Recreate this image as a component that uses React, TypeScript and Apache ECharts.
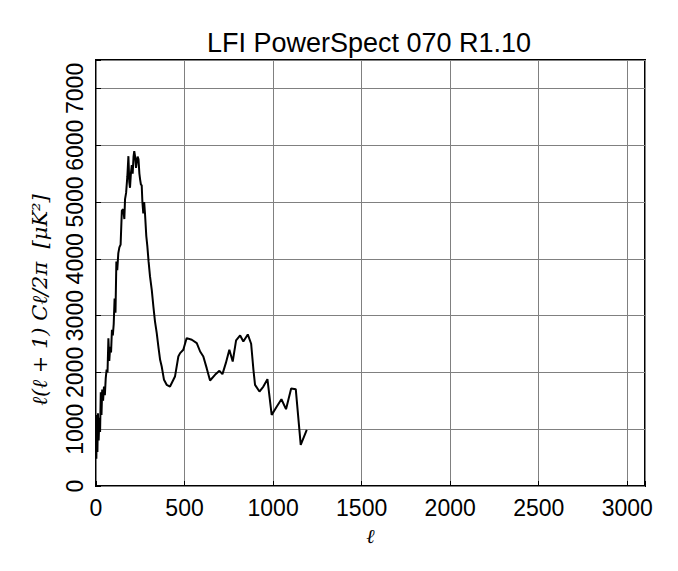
import React, { useEffect, useRef } from "react";
import * as echarts from "echarts";

const ells = [2, 5, 8, 11, 15, 19, 23, 27, 31, 35, 40, 45, 50, 55, 60, 65, 70, 75, 80, 85, 90, 95, 100, 105, 110, 115, 120, 126, 132, 139, 146, 154, 160, 164, 170, 177, 183, 188, 192, 197, 202, 207, 212, 216, 221, 226, 230, 235, 240, 245, 249, 254, 258, 262, 267, 272, 277, 284, 290, 297, 305, 315, 324, 333, 343, 352, 362, 371, 384, 399, 418, 446, 465, 475, 493, 512, 541, 569, 588, 606, 625, 644, 672, 697, 714, 733, 753, 772, 791, 814, 832, 857, 876, 889, 898, 923, 945, 968, 992, 1021, 1047, 1073, 1102, 1128, 1156, 1190];
const power = [480, 1250, 600, 1280, 800, 1200, 950, 1650, 1250, 1700, 1500, 1750, 1600, 1900, 2050, 2000, 2600, 2200, 2450, 2350, 2750, 2650, 2850, 3300, 3050, 3950, 3800, 4100, 4200, 4250, 4850, 4870, 4700, 5050, 5160, 5450, 5807, 5350, 5250, 5500, 5650, 5500, 5800, 5895, 5800, 5600, 5700, 5800, 5750, 5500, 5400, 5300, 5300, 5000, 4800, 5000, 4780, 4400, 4220, 3950, 3690, 3450, 3160, 2900, 2690, 2457, 2222, 2104, 1869, 1781, 1751, 1927, 2280, 2340, 2398, 2604, 2575, 2516, 2368, 2280, 2075, 1857, 1957, 2028, 1969, 2163, 2398, 2192, 2563, 2651, 2545, 2668, 2504, 2045, 1781, 1663, 1751, 1881, 1252, 1398, 1528, 1352, 1716, 1704, 723, 987];

const titleText = "LFI PowerSpect 070 R1.10";
const xName = "ℓ";
const yName = "ℓ(ℓ + 1) Cℓ/2π  [μK²]";

export default function App() {
  const ref = useRef<HTMLDivElement>(null);
  useEffect(() => {
    if (!ref.current) return;
    const chart = echarts.init(ref.current, null, { renderer: "svg" });
    const font = "Liberation Sans";
    chart.setOption({
      animation: false,
      backgroundColor: "#ffffff",
      title: {
        text: titleText,
        left: 356,
        textAlign: "center",
        top: 16,
        textStyle: { fontFamily: font, fontSize: 27, fontWeight: "normal", color: "#000" },
      },
      grid: {
        left: 88,
        right: 25,
        top: 52,
        bottom: 77,
        show: true,
        borderColor: "#000",
        borderWidth: 2,
        backgroundColor: "transparent",
      },
      xAxis: {
        type: "value",
        min: 0,
        max: 3100,
        interval: 500,
        name: xName,
        nameLocation: "middle",
        nameGap: 40,
        nameTextStyle: { fontFamily: "DejaVu Serif", fontStyle: "italic", fontSize: 20, color: "#000" },
        axisLine: { show: false },
        axisTick: { show: true, inside: true, length: 5, lineStyle: { color: "#000" } },
        axisLabel: {
          fontFamily: font,
          fontSize: 23,
          color: "#000",
          margin: 10,
          formatter: (v: number) => (v % 500 === 0 ? String(v) : ""),
        },
        splitLine: { show: true, lineStyle: { color: "#808080", width: 1 } },
      },
      yAxis: {
        type: "value",
        min: 0,
        max: 7500,
        interval: 1000,
        axisLine: { show: false },
        axisTick: { show: true, inside: true, length: 5, lineStyle: { color: "#000" } },
        axisLabel: {
          fontFamily: font,
          fontSize: 23,
          color: "#000",
          rotate: 90,
          margin: 10,
          formatter: (v: number) => (v % 1000 === 0 ? String(v) : ""),
        },
        splitLine: { show: true, lineStyle: { color: "#808080", width: 1 } },
      },
      graphic: [
        {
          type: "text",
          x: 32,
          y: 292,
          rotation: Math.PI / 2,
          style: {
            text: yName,
            fontFamily: "DejaVu Serif",
            fontStyle: "italic",
            fontSize: 21,
            fill: "#000",
            align: "center",
            verticalAlign: "middle",
          },
        },
      ],
      series: [
        {
          type: "line",
          data: ells.map((l, i) => [l, power[i]]),
          showSymbol: false,
          lineStyle: { color: "#000", width: 2 },
          itemStyle: { color: "#000" },
        },
      ],
    });
    return () => chart.dispose();
  }, []);
  return <div ref={ref} style={{ width: 662, height: 555 }} />;
}
